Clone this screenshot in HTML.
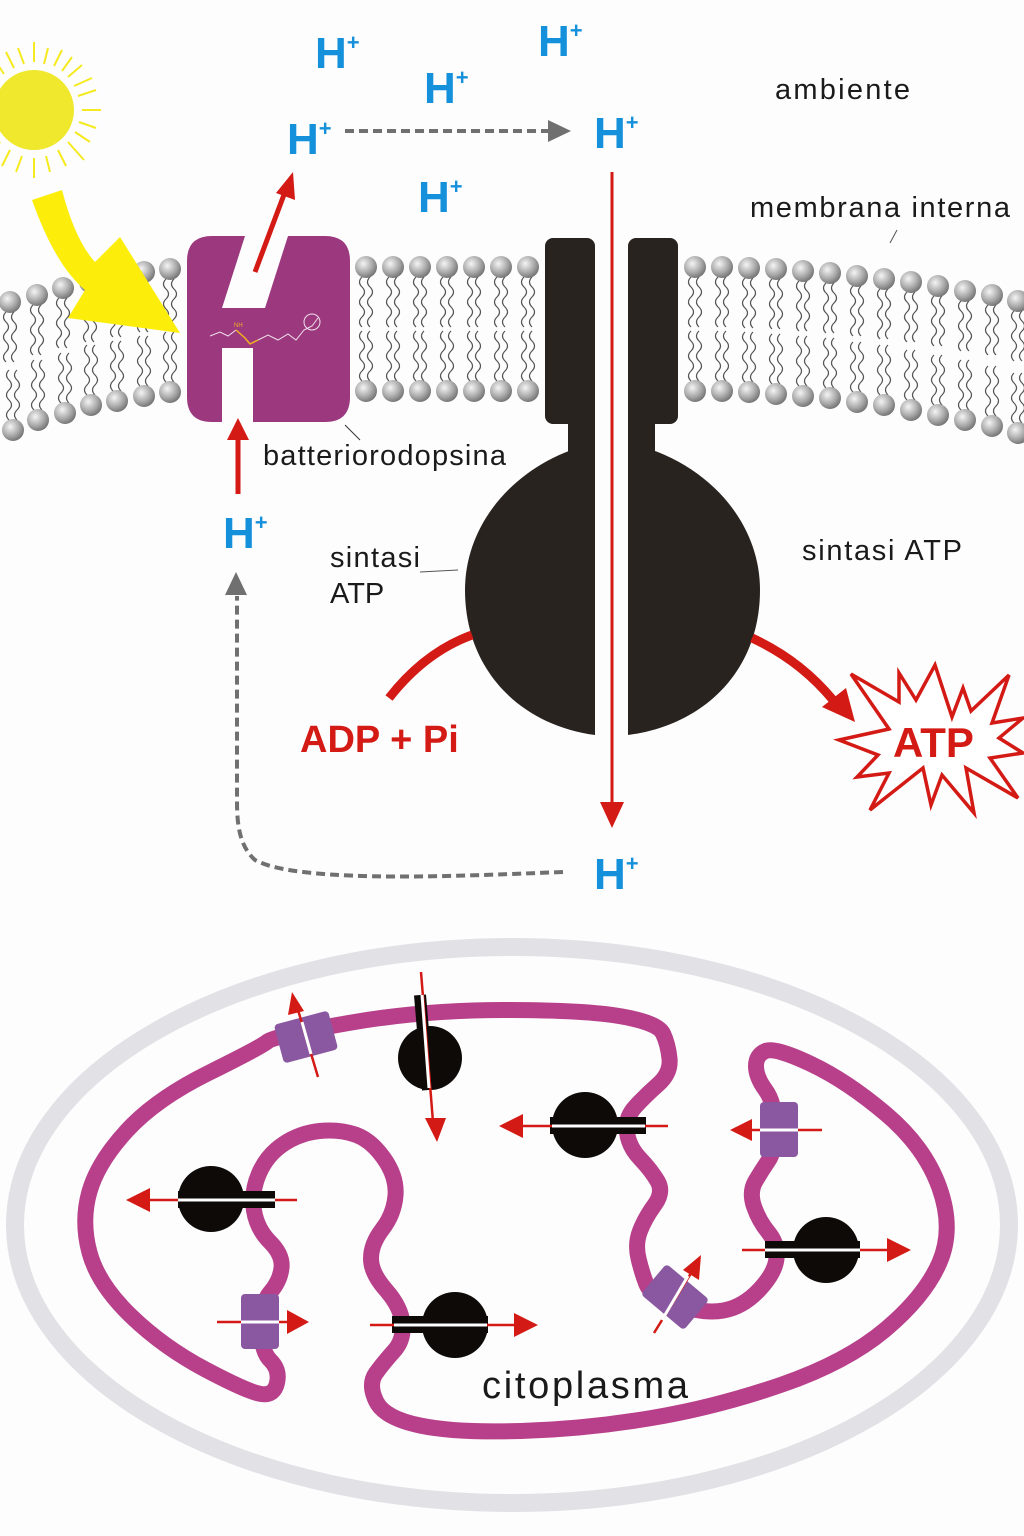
<!DOCTYPE html>
<html><head><meta charset="utf-8"><style>
html,body{margin:0;padding:0;background:#fdfdfe;}
svg{display:block;}
.h{font-family:"Liberation Sans",sans-serif;font-weight:bold;fill:#1590da;font-size:44px;}
.hs{font-size:22px;}
.t{font-family:"Liberation Sans",sans-serif;fill:#1a1a1a;font-size:29px;}
</style></head><body>
<svg width="1024" height="1536" viewBox="0 0 1024 1536" xmlns="http://www.w3.org/2000/svg">
<defs>
<radialGradient id="hg" cx="0.38" cy="0.35" r="0.7"><stop offset="0" stop-color="#f4f4f4"/><stop offset="0.6" stop-color="#a8a8a8"/><stop offset="1" stop-color="#6e6e6e"/></radialGradient>
<g id="lt">
<path d="M-4,10 q-5,5 0,10 t0,10 t0,10 t0,10 t0,10" fill="none" stroke="#555" stroke-width="1.2"/>
<path d="M4,10 q-5,5 0,10 t0,10 t0,10 t0,10 t0,10" fill="none" stroke="#555" stroke-width="1.2"/>
<circle r="11" fill="url(#hg)"/>
</g>
<g id="lb">
<path d="M-4,-10 q-5,-5 0,-10 t0,-10 t0,-10 t0,-10 t0,-10" fill="none" stroke="#555" stroke-width="1.2"/>
<path d="M4,-10 q-5,-5 0,-10 t0,-10 t0,-10 t0,-10 t0,-10" fill="none" stroke="#555" stroke-width="1.2"/>
<circle r="11" fill="url(#hg)"/>
</g>
</defs>

<!-- sun -->
<g stroke="#f5ea20" stroke-width="2">
<line x1="34" y1="62" x2="34" y2="42"/><line x1="44" y1="64" x2="48" y2="48"/><line x1="54" y1="66" x2="62" y2="50"/><line x1="62" y1="71" x2="72" y2="57"/><line x1="68" y1="77" x2="82" y2="65"/><line x1="74" y1="86" x2="92" y2="78"/><line x1="78" y1="96" x2="96" y2="90"/><line x1="82" y1="110" x2="101" y2="110"/><line x1="79" y1="122" x2="96" y2="128"/><line x1="75" y1="132" x2="90" y2="142"/><line x1="68" y1="142" x2="84" y2="160"/><line x1="58" y1="150" x2="66" y2="166"/><line x1="46" y1="156" x2="50" y2="172"/><line x1="34" y1="158" x2="34" y2="178"/><line x1="22" y1="156" x2="16" y2="172"/><line x1="10" y1="150" x2="2" y2="166"/><line x1="0" y1="142" x2="-8" y2="155"/>
<line x1="24" y1="64" x2="18" y2="48"/><line x1="14" y1="68" x2="6" y2="52"/><line x1="4" y1="74" x2="-4" y2="62"/>
</g>
<circle cx="34" cy="110" r="40" fill="#efe82c"/>

<!-- membrane left -->
<g>
<use href="#lt" x="10" y="302"/><use href="#lt" x="37" y="295"/><use href="#lt" x="63" y="288"/><use href="#lt" x="90" y="282"/><use href="#lt" x="117" y="277"/><use href="#lt" x="144" y="272"/><use href="#lt" x="170" y="269"/>
<use href="#lb" x="13" y="430"/><use href="#lb" x="38" y="420"/><use href="#lb" x="65" y="413"/><use href="#lb" x="91" y="405"/><use href="#lb" x="117" y="401"/><use href="#lb" x="144" y="396"/><use href="#lb" x="170" y="392"/>
</g>
<!-- membrane middle -->
<g>
<use href="#lt" x="366" y="267"/><use href="#lt" x="393" y="267"/><use href="#lt" x="420" y="267"/><use href="#lt" x="447" y="267"/><use href="#lt" x="474" y="267"/><use href="#lt" x="501" y="267"/><use href="#lt" x="528" y="267"/>
<use href="#lb" x="366" y="391"/><use href="#lb" x="393" y="391"/><use href="#lb" x="420" y="391"/><use href="#lb" x="447" y="391"/><use href="#lb" x="474" y="391"/><use href="#lb" x="501" y="391"/><use href="#lb" x="528" y="391"/>
</g>
<!-- membrane right -->
<g>
<use href="#lt" x="695" y="267"/><use href="#lt" x="722" y="267"/><use href="#lt" x="749" y="268"/><use href="#lt" x="776" y="269"/><use href="#lt" x="803" y="271"/><use href="#lt" x="830" y="273"/><use href="#lt" x="857" y="276"/><use href="#lt" x="884" y="279"/><use href="#lt" x="911" y="282"/><use href="#lt" x="938" y="286"/><use href="#lt" x="965" y="291"/><use href="#lt" x="992" y="295"/><use href="#lt" x="1018" y="301"/>
<use href="#lb" x="695" y="391"/><use href="#lb" x="722" y="391"/><use href="#lb" x="749" y="392"/><use href="#lb" x="776" y="394"/><use href="#lb" x="803" y="396"/><use href="#lb" x="830" y="398"/><use href="#lb" x="857" y="402"/><use href="#lb" x="884" y="405"/><use href="#lb" x="911" y="410"/><use href="#lb" x="938" y="415"/><use href="#lb" x="965" y="420"/><use href="#lb" x="992" y="426"/><use href="#lb" x="1018" y="433"/>
</g>

<!-- yellow arrow -->
<path d="M32,200 L62,190 Q75,240 95,262 L120,237 L180,333 L68,318 L85,290 Q55,265 32,200 Z" fill="#fcee0a"/>

<!-- bacteriorhodopsin -->
<path d="M212,236 H245 L222,308 H265 L288,236 H325 Q350,236 350,261 V397 Q350,422 325,422 H253 V348 H222 V422 H212 Q187,422 187,397 V261 Q187,236 212,236 Z" fill="#9c397e"/>
<g fill="none" stroke="#f0e0ec" stroke-width="1">
<polyline points="210,336 220,332 228,336 236,330"/>
<polyline points="258,340 268,335 278,340 288,334 296,340 304,330 312,326 318,318"/>
<circle cx="312" cy="322" r="8"/>
</g>
<polyline points="236,330 245,338 250,344 258,340" fill="none" stroke="#f0b020" stroke-width="1.5"/>
<text x="234" y="327" font-size="6" fill="#f0b020" font-family="Liberation Sans">NH</text>
<line x1="345" y1="425" x2="360" y2="440" stroke="#333" stroke-width="1"/>

<!-- red arrows bR -->
<line x1="255" y1="272" x2="285" y2="192" stroke="#d41a14" stroke-width="5"/>
<path d="M293,172 L295,200 L276,193 Z" fill="#d41a14"/>
<line x1="238" y1="494" x2="238" y2="438" stroke="#d41a14" stroke-width="5"/>
<path d="M238,418 L249,440 L227,440 Z" fill="#d41a14"/>

<!-- ATP synthase -->
<g fill="#29231f">
<rect x="545" y="238" width="50" height="186" rx="8"/>
<rect x="628" y="238" width="50" height="186" rx="8"/>
<rect x="568" y="410" width="27" height="45"/>
<rect x="628" y="410" width="27" height="45"/>
<path d="M595,443 C520,460 465,520 465,590 C465,670 520,725 595,735 Z"/>
<path d="M628,443 C705,460 760,520 760,590 C760,670 705,725 628,735 Z"/>
</g>
<line x1="612" y1="172" x2="612" y2="805" stroke="#d41a14" stroke-width="3"/>
<path d="M612,828 L600,802 L624,802 Z" fill="#d41a14"/>

<!-- ADP arrow -->
<path d="M389,698 Q425,652 472,635" fill="none" stroke="#d41a14" stroke-width="9"/>
<path d="M752,638 Q800,660 833,700" fill="none" stroke="#d41a14" stroke-width="9"/>
<path d="M855,722 L822,707 L846,688 Z" fill="#d41a14"/>

<!-- starburst -->
<polygon points="851,674 899,702 899,673 916,700 935,665 952,717 963,688 971,711 1009,675 992,723 1023,718 999,738 1023,753 990,758 1018,798 966,768 974,813 942,775 931,805 923,768 870,810 889,773 857,777 878,755 839,740 889,729" fill="#fff" stroke="#d41a14" stroke-width="3.5"/>
<text x="893" y="757" font-family="Liberation Sans" font-weight="bold" font-size="42" fill="#d41a14">ATP</text>
<text x="300" y="752" font-family="Liberation Sans" font-weight="bold" font-size="38" fill="#d41a14">ADP + Pi</text>

<!-- dashed arrows -->
<line x1="345" y1="131" x2="548" y2="131" stroke="#707070" stroke-width="4" stroke-dasharray="9,5"/>
<path d="M571,131 L548,120 L548,142 Z" fill="#707070"/>
<path d="M563,872 C480,875 300,885 255,860 C238,845 237,820 237,800 L237,596" fill="none" stroke="#707070" stroke-width="4" stroke-dasharray="9,5"/>
<path d="M236,572 L225,595 L247,595 Z" fill="#707070"/>

<!-- H+ -->
<text class="h" x="315" y="68">H<tspan class="hs" dy="-18">+</tspan></text>
<text class="h" x="538" y="56">H<tspan class="hs" dy="-18">+</tspan></text>
<text class="h" x="424" y="103">H<tspan class="hs" dy="-18">+</tspan></text>
<text class="h" x="287" y="154">H<tspan class="hs" dy="-18">+</tspan></text>
<text class="h" x="594" y="148">H<tspan class="hs" dy="-18">+</tspan></text>
<text class="h" x="418" y="212">H<tspan class="hs" dy="-18">+</tspan></text>
<text class="h" x="223" y="548">H<tspan class="hs" dy="-18">+</tspan></text>
<text class="h" x="594" y="889">H<tspan class="hs" dy="-18">+</tspan></text>

<!-- labels -->
<text class="t" x="775" y="99" textLength="135">ambiente</text>
<text class="t" x="750" y="217" textLength="260">membrana interna</text>
<line x1="897" y1="230" x2="890" y2="243" stroke="#555" stroke-width="1"/>
<text class="t" x="263" y="465" textLength="243">batteriorodopsina</text>
<text class="t" x="330" y="567" textLength="90">sintasi</text>
<text class="t" x="330" y="603">ATP</text>
<line x1="420" y1="572" x2="458" y2="570" stroke="#555" stroke-width="1"/>
<text class="t" x="802" y="560" textLength="160">sintasi ATP</text>

<!-- bottom cell -->
<ellipse cx="512" cy="1225" rx="497" ry="278" fill="none" stroke="#e2e2e6" stroke-width="18"/>
<path fill="none" stroke="#b8408a" stroke-width="16" stroke-linejoin="round" d="M267.5,1041.5 Q274,1036 348.5,1023 Q423,1010 504.5,1010 Q586,1010 622,1016.5 Q658,1023 663,1033.5 Q668,1044 669.5,1058.5 Q671,1073 658,1084.5 Q645,1096 635,1107 Q625,1118 627,1132.5 Q629,1147 640,1158.5 Q651,1170 657.5,1181 Q664,1192 654.5,1205 Q645,1218 640,1231 Q635,1244 638.5,1258.5 Q642,1273 646.5,1284.5 Q651,1296 677.5,1305 Q704,1314 723.5,1310.5 Q743,1307 759,1290 Q775,1273 776.5,1258.5 Q778,1244 768.5,1232.5 Q759,1221 754,1206.5 Q749,1192 755.5,1181 Q762,1170 768.5,1160.5 Q775,1151 775,1127 Q775,1103 765.5,1090 Q756,1077 756,1066 Q756,1055 765.5,1051 Q775,1047 811,1064 Q847,1081 886,1114 Q925,1147 939.5,1188 Q954,1229 939.5,1262.5 Q925,1296 886,1329 Q847,1362 782,1384.5 Q717,1407 651.5,1418 Q586,1429 521,1431 Q456,1433 420,1425.5 Q384,1418 376,1401 Q368,1384 376,1373 Q384,1362 394,1351 Q404,1340 402.5,1323.5 Q401,1307 386,1290 Q371,1273 371,1258.5 Q371,1244 382.5,1229 Q394,1214 395.5,1195.5 Q397,1177 384,1158.5 Q371,1140 355,1134.5 Q339,1129 319.5,1131 Q300,1133 283.5,1144 Q267,1155 259,1173.5 Q251,1192 254,1210.5 Q257,1229 270,1242 Q283,1255 281.5,1268 Q280,1281 270.5,1292 Q261,1303 261,1327 Q261,1351 270.5,1360.5 Q280,1370 277,1383 Q274,1396 261,1394 Q248,1392 205.5,1369.5 Q163,1347 130.5,1315.5 Q98,1284 89.5,1252.5 Q81,1221 89.5,1191.5 Q98,1162 127,1130.5 Q156,1099 208.5,1073 Q261,1047 267.5,1041.5 Z"/>
<text x="482" y="1398" font-family="Liberation Sans" font-size="38" fill="#1a1a1a" textLength="206">citoplasma</text>

<!-- proteins -->
<g>
<g transform="translate(306,1037) rotate(-15)"><rect x="-28" y="-20" width="56" height="40" rx="4" fill="#8a58a0"/></g>
<line x1="318" y1="1077" x2="298" y2="1010" stroke="#d41a14" stroke-width="2.5"/>
<line x1="311" y1="1054" x2="302" y2="1022" stroke="#fff" stroke-width="3"/>
<path d="M292,992 L288,1015 L304,1011 Z" fill="#d41a14"/>

<ellipse cx="430" cy="1058" rx="32" ry="32" fill="#0e0a08"/>
<line x1="420" y1="995" x2="428" y2="1090" stroke="#0e0a08" stroke-width="12"/>
<line x1="421" y1="972" x2="433" y2="1122" stroke="#d41a14" stroke-width="2.5"/>
<line x1="422" y1="995" x2="429" y2="1088" stroke="#fff" stroke-width="3"/>
<path d="M437,1142 L425,1118 L446,1118 Z" fill="#d41a14"/>

<circle cx="585" cy="1125" r="33" fill="#0e0a08"/>
<rect x="550" y="1117" width="96" height="17" fill="#0e0a08"/>
<line x1="520" y1="1126" x2="668" y2="1126" stroke="#d41a14" stroke-width="2.5"/>
<line x1="552" y1="1126" x2="645" y2="1126" stroke="#fff" stroke-width="3"/>
<path d="M499,1126 L523,1114 L523,1138 Z" fill="#d41a14"/>

<rect x="760" y="1102" width="38" height="55" rx="4" fill="#8a58a0"/>
<line x1="750" y1="1130" x2="822" y2="1130" stroke="#d41a14" stroke-width="2.5"/>
<line x1="760" y1="1130" x2="798" y2="1130" stroke="#fff" stroke-width="3"/>
<path d="M730,1130 L752,1119 L752,1141 Z" fill="#d41a14"/>

<circle cx="211" cy="1199" r="33" fill="#0e0a08"/>
<rect x="178" y="1191" width="97" height="17" fill="#0e0a08"/>
<line x1="148" y1="1200" x2="297" y2="1200" stroke="#d41a14" stroke-width="2.5"/>
<line x1="178" y1="1200" x2="275" y2="1200" stroke="#fff" stroke-width="3"/>
<path d="M126,1200 L150,1188 L150,1212 Z" fill="#d41a14"/>

<rect x="241" y="1294" width="38" height="55" rx="4" fill="#8a58a0"/>
<line x1="217" y1="1322" x2="290" y2="1322" stroke="#d41a14" stroke-width="2.5"/>
<line x1="241" y1="1322" x2="279" y2="1322" stroke="#fff" stroke-width="3"/>
<path d="M309,1322 L287,1310 L287,1334 Z" fill="#d41a14"/>

<circle cx="455" cy="1325" r="33" fill="#0e0a08"/>
<rect x="392" y="1316" width="96" height="17" fill="#0e0a08"/>
<line x1="370" y1="1325" x2="518" y2="1325" stroke="#d41a14" stroke-width="2.5"/>
<line x1="394" y1="1325" x2="487" y2="1325" stroke="#fff" stroke-width="3"/>
<path d="M538,1325 L514,1313 L514,1337 Z" fill="#d41a14"/>

<g transform="translate(675,1297) rotate(40)"><rect x="-28" y="-20" width="56" height="40" rx="4" fill="#8a58a0"/></g>
<line x1="654" y1="1333" x2="693" y2="1270" stroke="#d41a14" stroke-width="2.5"/>
<line x1="662" y1="1320" x2="688" y2="1276" stroke="#fff" stroke-width="3"/>
<path d="M701,1255 L699,1280 L683,1270 Z" fill="#d41a14"/>

<circle cx="826" cy="1250" r="33" fill="#0e0a08"/>
<rect x="765" y="1241" width="95" height="17" fill="#0e0a08"/>
<line x1="742" y1="1250" x2="890" y2="1250" stroke="#d41a14" stroke-width="2.5"/>
<line x1="765" y1="1250" x2="860" y2="1250" stroke="#fff" stroke-width="3"/>
<path d="M911,1250 L887,1238 L887,1262 Z" fill="#d41a14"/>
</g>
</svg>
</body></html>
